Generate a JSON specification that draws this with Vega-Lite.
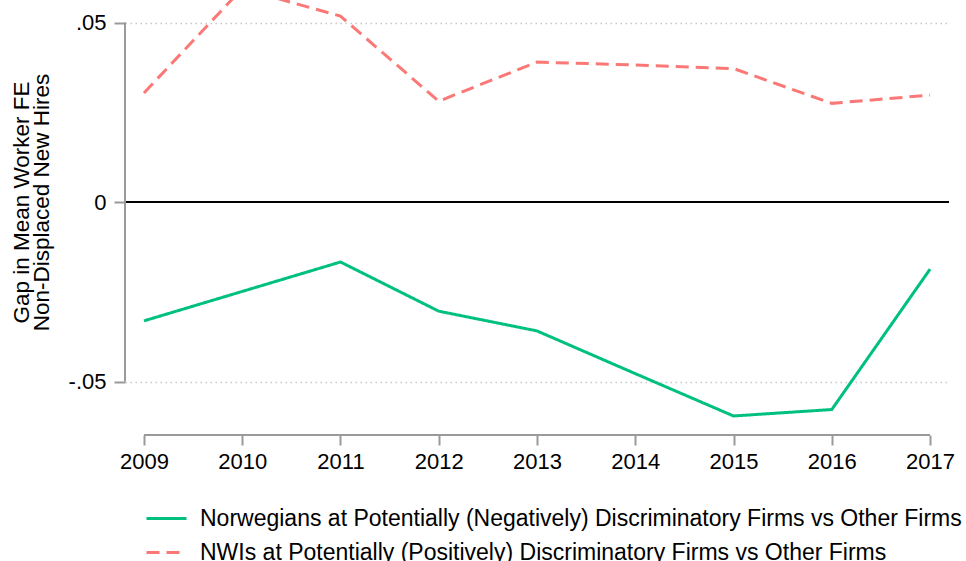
{
  "$schema": "https://vega.github.io/schema/vega-lite/v6.json",
  "width": 824,
  "height": 435,
  "autosize": {"type": "none"},
  "padding": {"left": 125, "top": 0, "right": 17, "bottom": 126},
  "background": "white",
  "config": {
    "view": {"stroke": null},
    "font": "Liberation Sans",
    "axis": {"labelFont": "Liberation Sans", "titleFont": "Liberation Sans"},
    "legend": {"labelFont": "Liberation Sans"}
  },
  "datasets": {
    "series": [
      {"year": 2009, "gap": -0.0331, "group": "Norwegians at Potentially (Negatively) Discriminatory Firms vs Other Firms"},
      {"year": 2010, "gap": -0.0249, "group": "Norwegians at Potentially (Negatively) Discriminatory Firms vs Other Firms"},
      {"year": 2011, "gap": -0.0167, "group": "Norwegians at Potentially (Negatively) Discriminatory Firms vs Other Firms"},
      {"year": 2012, "gap": -0.0304, "group": "Norwegians at Potentially (Negatively) Discriminatory Firms vs Other Firms"},
      {"year": 2013, "gap": -0.0359, "group": "Norwegians at Potentially (Negatively) Discriminatory Firms vs Other Firms"},
      {"year": 2014, "gap": -0.0478, "group": "Norwegians at Potentially (Negatively) Discriminatory Firms vs Other Firms"},
      {"year": 2015, "gap": -0.0596, "group": "Norwegians at Potentially (Negatively) Discriminatory Firms vs Other Firms"},
      {"year": 2016, "gap": -0.0578, "group": "Norwegians at Potentially (Negatively) Discriminatory Firms vs Other Firms"},
      {"year": 2017, "gap": -0.0187, "group": "Norwegians at Potentially (Negatively) Discriminatory Firms vs Other Firms"},
      {"year": 2009, "gap": 0.0304, "group": "NWIs at Potentially (Positively) Discriminatory Firms vs Other Firms"},
      {"year": 2010, "gap": 0.0595, "group": "NWIs at Potentially (Positively) Discriminatory Firms vs Other Firms"},
      {"year": 2011, "gap": 0.0518, "group": "NWIs at Potentially (Positively) Discriminatory Firms vs Other Firms"},
      {"year": 2012, "gap": 0.0281, "group": "NWIs at Potentially (Positively) Discriminatory Firms vs Other Firms"},
      {"year": 2013, "gap": 0.0390, "group": "NWIs at Potentially (Positively) Discriminatory Firms vs Other Firms"},
      {"year": 2014, "gap": 0.0382, "group": "NWIs at Potentially (Positively) Discriminatory Firms vs Other Firms"},
      {"year": 2015, "gap": 0.0372, "group": "NWIs at Potentially (Positively) Discriminatory Firms vs Other Firms"},
      {"year": 2016, "gap": 0.0275, "group": "NWIs at Potentially (Positively) Discriminatory Firms vs Other Firms"},
      {"year": 2017, "gap": 0.0298, "group": "NWIs at Potentially (Positively) Discriminatory Firms vs Other Firms"}
    ],
    "xaxisline": [{"x1": 2009, "x2": 2017, "y": -0.0649}],
    "yaxisline": [{"x": 2008.807, "y1": -0.05, "y2": 0.05}]
  },
  "layer": [
    {
      "data": {"values": [{"zero": 0}]},
      "mark": {"type": "rule", "color": "black", "strokeWidth": 2},
      "encoding": {
        "y": {"field": "zero", "type": "quantitative", "scale": {"domain": [-0.0649, 0.0563], "nice": false, "zero": false}}
      }
    },
    {
      "data": {"name": "xaxisline"},
      "mark": {"type": "rule", "color": "#9a9a9a", "strokeWidth": 2},
      "encoding": {
        "x": {"field": "x1", "type": "quantitative"},
        "x2": {"field": "x2"},
        "y": {"field": "y", "type": "quantitative"}
      }
    },
    {
      "data": {"name": "yaxisline"},
      "mark": {"type": "rule", "color": "#9a9a9a", "strokeWidth": 2},
      "encoding": {
        "x": {"field": "x", "type": "quantitative"},
        "y": {"field": "y1", "type": "quantitative"},
        "y2": {"field": "y2"}
      }
    },
    {
      "data": {"name": "series"},
      "mark": {"type": "line", "strokeWidth": 3, "clip": true},
      "encoding": {
        "x": {
          "field": "year", "type": "quantitative",
          "scale": {"domain": [2008.807, 2017.193], "nice": false, "zero": false},
          "axis": {
            "title": null, "values": [2009, 2010, 2011, 2012, 2013, 2014, 2015, 2016, 2017],
            "format": "d", "domain": false, "grid": false,
            "tickColor": "#9a9a9a", "tickWidth": 2, "tickSize": 10,
            "labelFontSize": 22, "labelColor": "black", "labelPadding": 6
          }
        },
        "y": {
          "field": "gap", "type": "quantitative",
          "scale": {"domain": [-0.0649, 0.0563], "nice": false, "zero": false},
          "axis": {
            "title": ["Gap in Mean Worker FE", "Non-Displaced New Hires"],
            "titleFontSize": 22.5, "titleFontWeight": "normal", "titleColor": "black",
            "titlePadding": 15, "titleLineHeight": 20, "titleY": 202,
            "values": [-0.05, 0, 0.05],
            "labelExpr": "datum.value == 0 ? '0' : datum.value > 0 ? '.05' : '-.05'",
            "domain": false,
            "tickColor": "#9a9a9a", "tickWidth": 2, "tickSize": 11,
            "labelFontSize": 22, "labelColor": "black", "labelPadding": 8,
            "grid": true, "gridColor": "#c8c8c8", "gridDash": [1.5, 3.5], "gridWidth": 1.5,
            "gridOpacity": {"condition": {"test": "datum.value == 0", "value": 0}, "value": 1}
          }
        },
        "color": {
          "field": "group", "type": "nominal",
          "scale": {
            "domain": ["Norwegians at Potentially (Negatively) Discriminatory Firms vs Other Firms", "NWIs at Potentially (Positively) Discriminatory Firms vs Other Firms"],
            "range": ["#00c07f", "#fa7876"]
          },
          "legend": {
            "title": null, "orient": "none", "legendX": 20, "legendY": 497,
            "symbolType": "stroke", "symbolSize": 1600, "symbolStrokeWidth": 3,
            "labelFontSize": 23, "labelColor": "black", "rowPadding": -10, "labelOffset": 12,
            "labelLimit": 900
          }
        },
        "strokeDash": {
          "field": "group", "type": "nominal",
          "scale": {
            "domain": ["Norwegians at Potentially (Negatively) Discriminatory Firms vs Other Firms", "NWIs at Potentially (Positively) Discriminatory Firms vs Other Firms"],
            "range": [[1, 0], [13, 7]]
          },
          "legend": null
        }
      }
    }
  ]
}
